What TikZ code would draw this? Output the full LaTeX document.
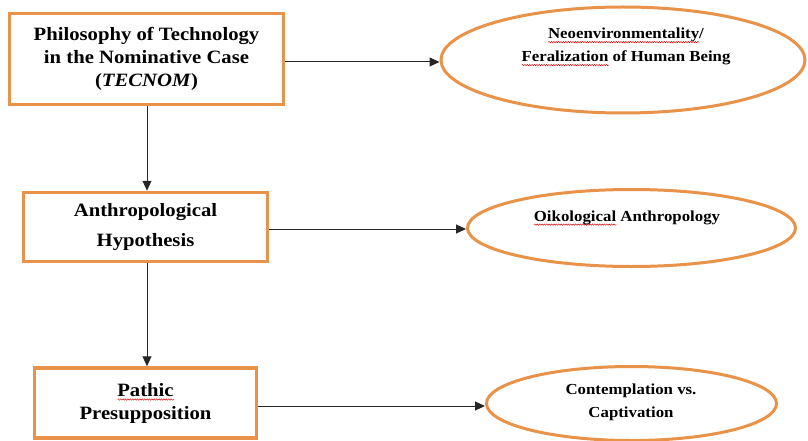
\documentclass[tikz,border=0pt]{standalone}
\usepackage{fontspec}
\setmainfont{Liberation Serif}[FakeStretch=1.1]
\usetikzlibrary{arrows.meta,shapes.geometric,decorations.pathmorphing}
\definecolor{orng}{RGB}{232,146,74}
\newsavebox\spellbox
\newcommand\spellw[1]{\sbox\spellbox{#1}\rlap{\raisebox{-3.5pt}{\tikz[baseline=0pt,x=1cm,y=1cm]\draw[red!85!black,line width=0.45pt,decorate,decoration={snake,amplitude=0.7pt,segment length=2.4pt}] (0pt,0pt)--(\wd\spellbox,0pt);}}\usebox\spellbox}
\tikzset{
  box/.style={draw=orng, line width=3.5pt, fill=white, inner sep=0pt, align=center,
    font=\bfseries\fontsize{18.8}{23}\selectfont},
  oval/.style={draw=orng, line width=3pt, ellipse, inner sep=0pt},
  ovaltext/.style={align=center, inner sep=0pt, font=\bfseries\fontsize{15.3}{23}\selectfont},
  arr/.style={draw=black!85, line width=1pt, -{Triangle[length=10pt,width=9pt]}}
}
\begin{document}
\begin{tikzpicture}[x=1pt,y=-1pt]
\useasboundingbox (0,0) rectangle (808,441);
% boxes
\node[box, minimum width=274pt, minimum height=91pt] (b1) at (146.5,59) {Philosophy of Technology\\in the Nominative Case\\(\textit{TECNOM})};
\node[box, minimum width=244pt, minimum height=69pt] (b2) at (145.5,227) {Anthropological\\[7pt]Hypothesis};
\node[box, minimum width=222pt, minimum height=70pt] (b3) at (145.5,403) {\spellw{Pathic}\\Presupposition};
% ellipses
\node[oval, minimum width=364pt, minimum height=106pt] (e1) at (623,60) {};
\node[ovaltext] (t1) at (626,47) {\spellw{Neoenvironmentality}/\\\spellw{Feralization} of Human Being};
\node[oval, minimum width=328pt, minimum height=77pt] (e2) at (631.5,228) {};
\node[ovaltext] (t2) at (627,218) {\spellw{Oikological} Anthropology};
\node[oval, minimum width=290pt, minimum height=74pt] (e3) at (631.5,403.5) {};
\node[ovaltext] (t3) at (631,402) {Contemplation vs.\\Captivation};
% connectors
\draw[arr] (b1.east |- 0,62) -- (e1.west |- 0,62);
\draw[arr] (b2.east |- 0,229) -- (e2.west |- 0,229);
\draw[arr] (b3.east |- 0,406) -- (e3.west |- 0,406);
\draw[arr] (b1.south -| 147,0) -- (b2.north -| 147,0);
\draw[arr] (b2.south -| 147,0) -- (b3.north -| 147,0);
\end{tikzpicture}
\end{document}
